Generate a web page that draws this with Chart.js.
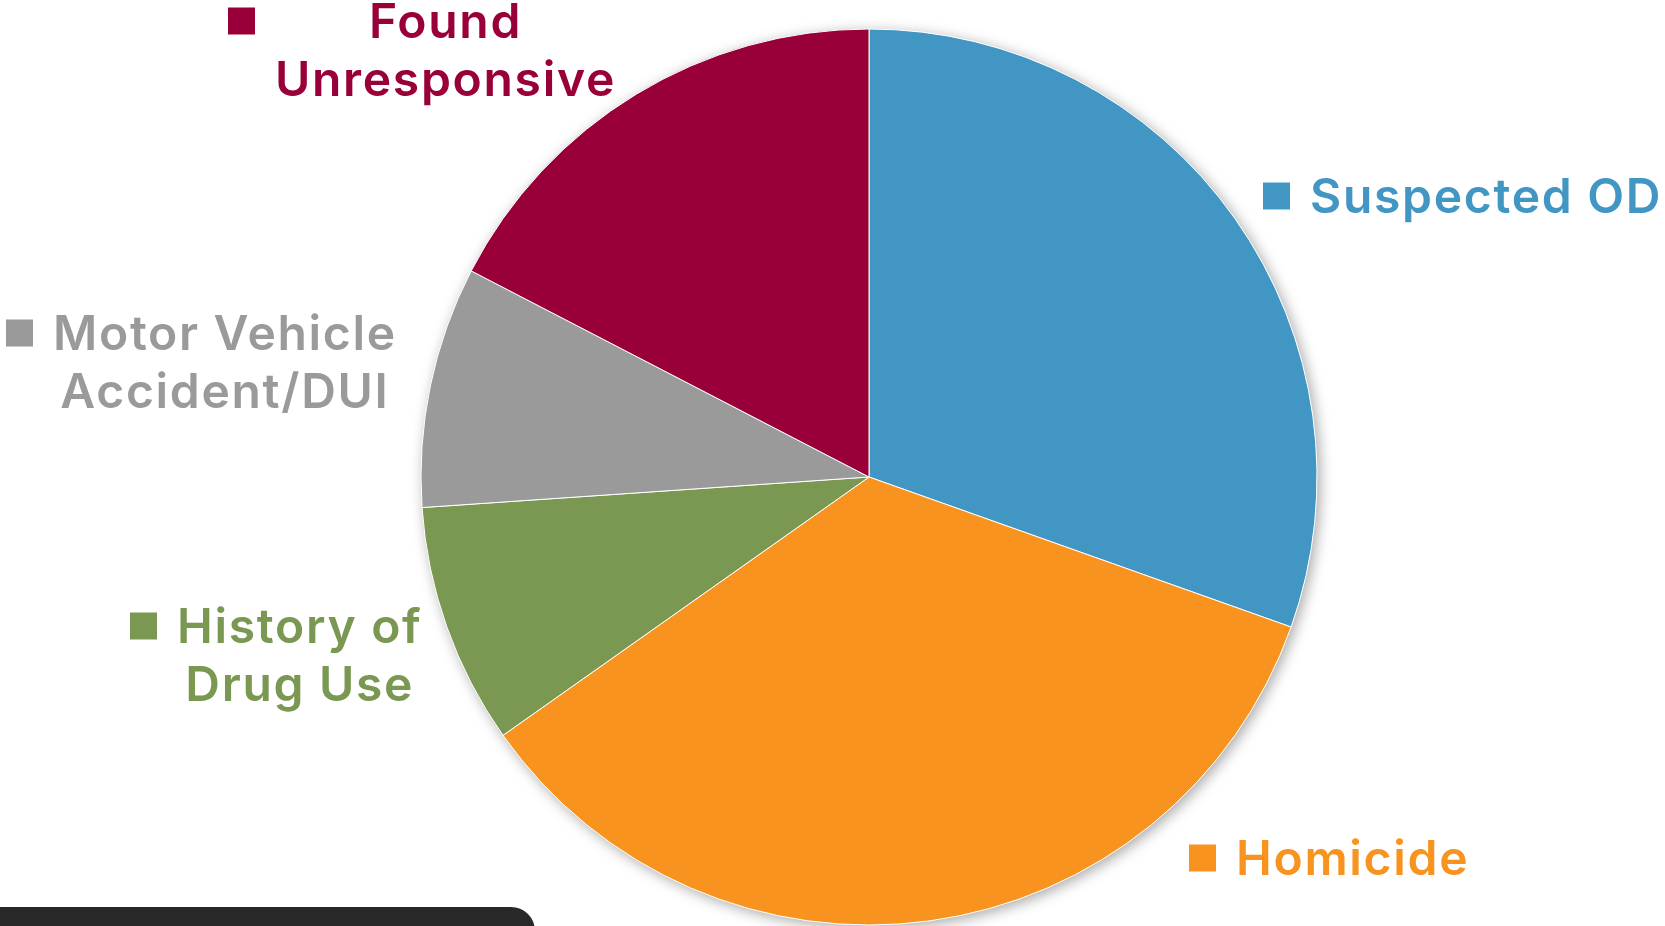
<!DOCTYPE html>
<html>
<head>
<meta charset="utf-8">
<title>Cause pie</title>
<script src="https://cdn.jsdelivr.net/npm/chart.js@4.4.1/dist/chart.umd.min.js"></script>
<style>
    html, body { margin: 0; padding: 0; background: #fff; }
    #wrap { position: relative; width: 1665px; height: 926px; overflow: hidden; }
    #bar {
        position: absolute; left: 0; top: 907px; width: 535px; height: 40px;
        background: #282828; border-top-right-radius: 24px;
    }
</style>
</head>
<body>
<div id="wrap">
    <canvas id="pieChart"></canvas>
    <div id="bar"></div>
</div>
<script>
// ── Data ───────────────────────────────────────
const categories = [
    ['Suspected OD'],
    ['Homicide'],
    ['History of', 'Drug Use'],
    ['Motor Vehicle', 'Accident/DUI'],
    ['Found', 'Unresponsive']
];
const counts = [7, 8, 2, 2, 4];
const colors = ['#4296C4', '#F7931E', '#7A9852', '#9A9A9A', '#990039'];

// label placement: marker left x, first baseline y
const labelSpots = [
    [1263, 213],
    [1189, 875],
    [130, 643],
    [6, 350],
    [228, 38]
];

const FONT = '600 48px "Inter", "Open Sans", sans-serif';
const LINE_H = 58;
const BOX = 27;
const GAP = 20;

// ── Shadow under the pie ───────────────────────
const pieShadow = {
    id: 'pieShadow',
    beforeDatasetsDraw(chart) {
        const arc = chart.getDatasetMeta(0).data[0];
        if (!arc) return;
        const ctx = chart.ctx;
        ctx.save();
        ctx.shadowColor = 'rgba(0,0,0,0.35)';
        ctx.shadowBlur = 14;
        ctx.shadowOffsetX = 3;
        ctx.shadowOffsetY = 3;
        ctx.fillStyle = '#fff';
        ctx.beginPath();
        ctx.arc(arc.x, arc.y, arc.outerRadius, 0, Math.PI * 2);
        ctx.fill();
        ctx.restore();
    }
};

// ── Outside labels with square markers ────────
const sideLabels = {
    id: 'sideLabels',
    afterDraw(chart) {
        const ctx = chart.ctx;
        const labels = chart.data.labels;
        const bg = chart.data.datasets[0].backgroundColor;
        ctx.save();
        ctx.font = FONT;
        ctx.letterSpacing = '1.7px';
        ctx.textBaseline = 'alphabetic';
        labels.forEach((lines, i) => {
            const [mx, by] = labelSpots[i];
            const capMid = by - 17;
            ctx.fillStyle = bg[i];
            ctx.fillRect(mx, capMid - BOX / 2, BOX, BOX);
            const widths = lines.map(t => ctx.measureText(t).width);
            const blockW = Math.max(...widths);
            const left = mx + BOX + GAP;
            ctx.textAlign = 'center';
            lines.forEach((t, j) => {
                ctx.fillText(t, left + blockW / 2, by + j * LINE_H);
            });
        });
        ctx.restore();
    }
};

new Chart(document.getElementById('pieChart'), {
    type: 'pie',
    data: {
        labels: categories,
        datasets: [{
            data: counts,
            backgroundColor: colors,
            borderColor: '#fff',
            borderWidth: 1,
            radius: 448
        }]
    },
    options: {
        responsive: true, maintainAspectRatio: false,
        animation: false,
        layout: { padding: { left: 73, top: 28, right: 0, bottom: 0 } },
        plugins: { legend: { display: false }, tooltip: { enabled: false } }
    },
    plugins: [pieShadow, sideLabels]
});
</script>
</body>
</html>
